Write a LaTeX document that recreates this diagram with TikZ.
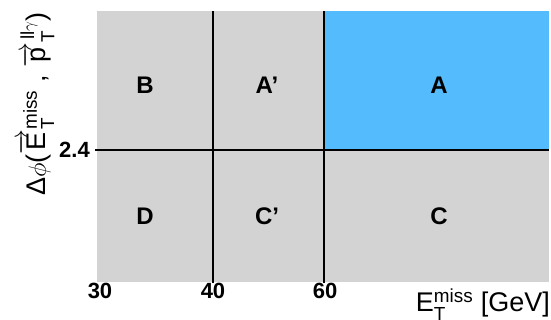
\documentclass[tikz,border=0pt]{standalone}
\usepackage{amsmath}
\usepackage{fontspec}
\setmainfont{Liberation Sans}
\definecolor{regiongray}{RGB}{211,211,211}
\definecolor{signalblue}{RGB}{84,187,252}
\tikzset{
  regionlabel/.style={font=\fontsize{24}{26}\selectfont\bfseries, inner sep=0pt},
  ticklabel/.style={font=\fontsize{22}{24}\selectfont\bfseries, inner sep=0pt},
  axislabel/.style={font=\fontsize{27}{30}\selectfont, inner sep=0pt},
  cutline/.style={line width=1.3pt, black}
}
\begin{document}
\begin{tikzpicture}[x=1pt, y=1pt]
  \useasboundingbox (0,0) rectangle (551,320);

  % regions
  \fill[regiongray] (97,38) rectangle (549,309);
  \fill[signalblue] (324,170) rectangle (549,309);

  % cuts
  \coordinate (cutlow) at (213,37);
  \coordinate (cutlowtop) at (213,309);
  \coordinate (cuthigh) at (324,37);
  \coordinate (cuthightop) at (324,309);
  \coordinate (phileft) at (95,170);
  \coordinate (phiright) at (549,170);
  \draw[cutline] (cutlow) -- (cutlowtop);
  \draw[cutline] (cuthigh) -- (cuthightop);
  \draw[cutline] (phileft) -- (phiright);

  % region names
  \node[regionlabel] (regB) at (145,235) {B};
  \node[regionlabel] (regAp) at (267,235) {A’};
  \node[regionlabel] (regA) at (439,235) {A};
  \node[regionlabel] (regD) at (145,104) {D};
  \node[regionlabel] (regCp) at (267,104) {C’};
  \node[regionlabel] (regC) at (439,104) {C};

  % tick values
  \node[ticklabel] (tick30) at (100,29) {30};
  \node[ticklabel] (tick40) at (213,29) {40};
  \node[ticklabel] (tick60) at (325,29) {60};
  \node[ticklabel, anchor=east] (tickphi) at (90,170) {2.4};

  % axis titles
  \node[axislabel, anchor=base east] (xtitle) at (550,8)
    {E$^{\text{miss}}_{\text{T}}$ [GeV]};
  \node[axislabel, rotate=90, anchor=base] (ytitle) at (46,216)
    {Δ$\phi$($\overrightarrow{\text{E}}^{\text{miss}}_{\text{T}}$ , $\overrightarrow{\text{p}}^{\,\text{ll}\gamma}_{\text{T}}$)};
\end{tikzpicture}
\end{document}
